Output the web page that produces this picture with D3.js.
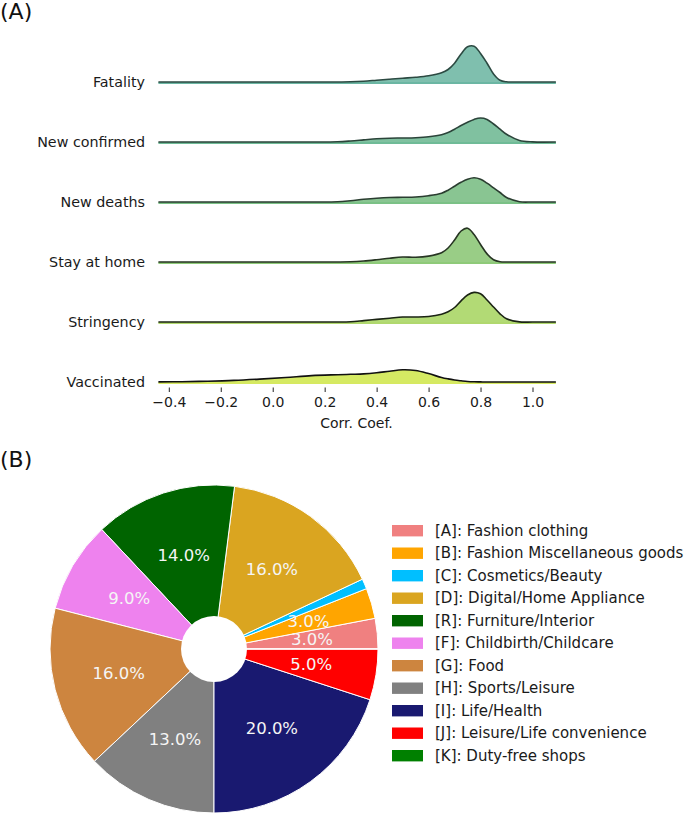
<!DOCTYPE html>
<html><head><meta charset="utf-8">
<script src="https://cdn.jsdelivr.net/npm/d3@7"></script>
<style>body{margin:0;background:#fff;} svg{display:block;font-family:"DejaVu Sans",sans-serif;}</style>
</head><body><svg id="c" width="685" height="815"></svg>
<script>
// ---------- Panel A data ----------
const rowLabels = ["Fatality","New confirmed","New deaths","Stay at home","Stringency","Vaccinated"];
const corrGrid = [-0.44,-0.35,-0.25,-0.15,-0.05,0.05,0.15,0.25,0.3,0.35,0.4,0.45,0.5,0.55,0.6,0.65,0.675,0.7,0.725,0.75,0.775,0.8,0.825,0.85,0.875,0.9,0.95,1.0,1.09];
const densFatality   = [0,0,0,0,0,0,0,0,0.02,0.08,0.18,0.28,0.38,0.47,0.62,0.92,1.25,1.88,2.80,3.52,3.58,2.86,1.88,0.80,0.17,0.02,0,0,0];
const densConfirmed  = [0,0,0,0,0,0,0,0.02,0.10,0.21,0.32,0.38,0.40,0.43,0.52,0.73,0.95,1.28,1.65,1.98,2.26,2.40,2.26,1.80,1.28,0.77,0.16,0.01,0];
const densDeaths     = [0,0,0,0,0,0,0,0.02,0.13,0.27,0.38,0.45,0.47,0.50,0.63,0.88,1.18,1.58,1.97,2.28,2.43,2.28,1.88,1.42,0.95,0.45,0.03,0,0];
const densStayHome   = [0,0,0,0,0,0,0,0,0.02,0.10,0.23,0.38,0.50,0.47,0.59,0.92,1.40,2.20,3.10,3.38,2.75,1.75,0.81,0.23,0.03,0,0,0,0];
const densStringency = [0,0,0,0,0,0,0,0,0.03,0.14,0.26,0.38,0.50,0.50,0.55,0.78,1.02,1.45,2.12,2.70,2.96,2.82,2.20,1.50,0.82,0.32,0.01,0,0];
const densVaccinated = [0.01,0.03,0.08,0.16,0.29,0.45,0.64,0.73,0.77,0.81,0.92,1.08,1.22,1.15,0.84,0.45,0.31,0.20,0.12,0.05,0.02,0.01,0,0,0,0,0,0,0];
const rowDensities = [densFatality,densConfirmed,densDeaths,densStayHome,densStringency,densVaccinated];
const xTicks = [-0.4,-0.2,0.0,0.2,0.4,0.6,0.8,1.0];
const rowFills    = ["#7fbfae","#80c1a0","#89c592","#99cd86","#b2da75","#d5ea63"];
const rowBase     = ["#3a9e84","#3fa474","#4fad5e","#69b84c","#96cb3e","#c9e22c"];
const rowOutline  = ["#2c4a42","#2b443a","#2a3d30","#273523","#1b2414","#111111"];

// ---------- Panel B data ----------
const categories = ["[A]: Fashion clothing","[B]: Fashion Miscellaneous goods","[C]: Cosmetics/Beauty","[D]: Digital/Home Appliance","[R]: Furniture/Interior","[F]: Childbirth/Childcare","[G]: Food","[H]: Sports/Leisure","[I]: Life/Health","[J]: Leisure/Life convenience","[K]: Duty-free shops"];
const shares = [3,3,1,16,14,9,16,13,20,5,0];
const pieColors = ["#f08080","#ffa500","#00bfff","#daa520","#006400","#ee82ee","#cd853f","#808080","#191970","#ff0000","#008000"];

const svg = d3.select("#c");

// ---------- Panel A ----------
svg.append("text").attr("x",0).attr("y",19).attr("font-size",22).attr("fill","#111").text("(A)");

const x = d3.scaleLinear().domain([-0.4,1.0]).range([168.8,532.5]);
const yRow = d3.scalePoint().domain(rowLabels).range([82,382]);
const h = d3.scaleLinear().domain([0,4]).range([0,40]);

rowLabels.forEach((lab,i)=>{
  const y0 = yRow(lab);
  const dens = rowDensities[i];
  const pts = corrGrid.map((c,j)=>[c,dens[j]]);
  const g = svg.append("g");
  const curve = d3.curveCatmullRom.alpha(0.5);
  const area = d3.area().x(d=>x(d[0])).y0(y0).y1(d=>Math.min(y0, y0-h(d[1]))).curve(curve);
  const line = d3.line().x(d=>x(d[0])).y(d=>y0-h(d[1])).curve(curve);
  g.append("path").attr("d",area(pts)).attr("fill",rowFills[i]);
  g.append("line").attr("x1",x(corrGrid[0])).attr("x2",x(corrGrid[corrGrid.length-1]))
    .attr("y1",y0+1).attr("y2",y0+1).attr("stroke",rowBase[i]).attr("stroke-width",1.6);
  g.append("path").attr("d",line(pts)).attr("fill","none").attr("stroke",rowOutline[i]).attr("stroke-width",1.6).attr("stroke-linejoin","round");
  svg.append("text").attr("x",145).attr("y",y0).attr("text-anchor","end").attr("dominant-baseline","central")
    .attr("font-size",14.3).attr("fill","#1a1a1a").text(lab);
});

const axis = d3.axisBottom(x).tickValues(xTicks).tickSize(4.5).tickPadding(5.5)
  .tickFormat(d=>d3.format(".1f")(d).replace("-","\u2212"));
const ax = svg.append("g").attr("transform","translate(0,387.5)").call(axis);
ax.select(".domain").remove();
ax.selectAll("line").attr("stroke","#222").attr("stroke-width",1);
ax.selectAll("text").attr("font-size",14).attr("fill","#1a1a1a").attr("font-family","DejaVu Sans");
svg.append("text").attr("x",356.5).attr("y",427.5).attr("text-anchor","middle").attr("font-size",14).attr("fill","#1a1a1a").text("Corr. Coef.");

// ---------- Panel B ----------
svg.append("text").attr("x",0).attr("y",467).attr("font-size",22).attr("fill","#111").text("(B)");

const cx = 214, cy = 649, R = 164;
const pie = d3.pie().value(d=>d).sort(null).startAngle(Math.PI/2).endAngle(Math.PI/2 - 2*Math.PI);
const arcs = pie(shares);
const arc = d3.arc().innerRadius(0).outerRadius(R);
const labArc = d3.arc().innerRadius(R*0.6).outerRadius(R*0.6);
const total = d3.sum(shares);
const pg = svg.append("g").attr("transform",`translate(${cx},${cy})`);
pg.selectAll("path.w").data(arcs).join("path").attr("class","w")
  .attr("d",arc).attr("fill",(d,i)=>pieColors[i]).attr("stroke","#fff").attr("stroke-width",1);
pg.append("circle").attr("r",33).attr("fill","#fff");
pg.selectAll("text.p").data(arcs.filter(d=>d.value/total*100>=2)).join("text").attr("class","p")
  .attr("transform",d=>`translate(${labArc.centroid(d)})`)
  .attr("text-anchor","middle").attr("dominant-baseline","central")
  .attr("font-size",16.5).attr("fill","#f5f5f5")
  .text(d=>(d.value/total*100).toFixed(1)+"%");

// legend
const ly = d3.scalePoint().domain(categories).range([530.7,755.7]);
const lg = svg.append("g");
categories.forEach((c,i)=>{
  lg.append("rect").attr("x",392).attr("y",ly(c)-5.7).attr("width",31).attr("height",11.4).attr("fill",pieColors[i]);
  lg.append("text").attr("x",435).attr("y",ly(c)).attr("dominant-baseline","central").attr("font-size",15).attr("fill","#1a1a1a").text(c);
});
</script>
</body></html>
